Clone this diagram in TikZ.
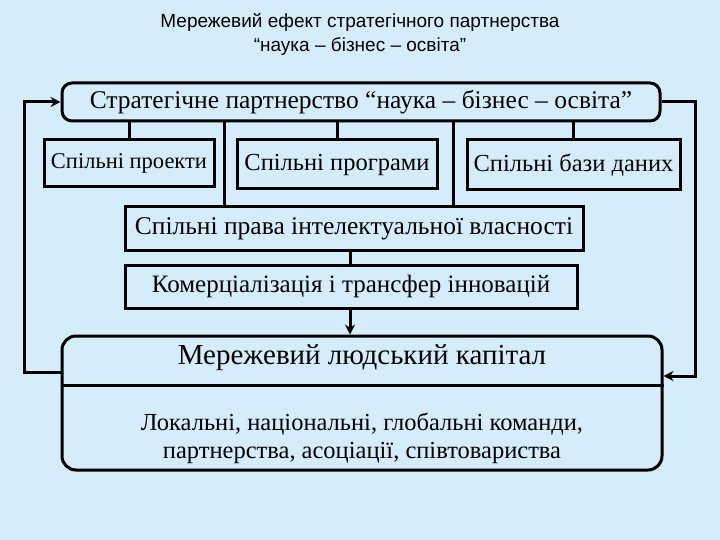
\documentclass[tikz,border=0pt]{standalone}
\usepackage{fontspec}
\usetikzlibrary{arrows.meta}
\setmainfont{Liberation Serif}
\newfontfamily\titlefont{Liberation Sans}
\definecolor{bg}{HTML}{D5ECFA}
\begin{document}
\begin{tikzpicture}[x=1pt,y=-1pt,
  bx/.style={draw,line width=3pt,fill=bg,inner sep=0pt},
  ln/.style={line width=3pt},
  ar/.style={line width=3pt,-{Stealth[length=10pt,width=10pt]}}]
\fill[bg] (0,0) rectangle (720,540);
\useasboundingbox (0,0) rectangle (720,540);
\node[font=\titlefont\fontsize{19}{24}\selectfont,align=center] (title) at (360,34) {Мережевий ефект стратегічного партнерства\\“наука – бізнес – освіта”};
\node[bx,rounded corners=10pt,minimum width=598pt,minimum height=38pt,font=\fontsize{25.5}{28}\selectfont] (top) at (361,102) {Стратегічне партнерство “наука – бізнес – освіта”};
\node[bx,minimum width=170pt,minimum height=47pt,font=\fontsize{22.5}{26}\selectfont] (b1) at (129,163.5) {Спільні проекти};
\node[bx,minimum width=200pt,minimum height=49pt,font=\fontsize{24.5}{28}\selectfont] (b2) at (337,164.5) {Спільні програми};
\node[bx,minimum width=213pt,minimum height=50pt,font=\fontsize{24.5}{28}\selectfont] (b3) at (573.5,165) {Спільні бази даних};
\node[bx,minimum width=458pt,minimum height=43pt,font=\fontsize{25.5}{28}\selectfont] (b4) at (354,228.5) {Спільні права інтелектуальної власності};
\node[bx,minimum width=452pt,minimum height=43pt,font=\fontsize{25}{28}\selectfont] (b5) at (351,286.5) {Комерціалізація і трансфер інновацій};
\node[bx,rounded corners=14pt,minimum width=600pt,minimum height=134pt] (net) at (362,403) {};
\draw[ln] (net.west |- 0,385) -- (net.east |- 0,385);
\node[font=\fontsize{29}{32}\selectfont] (nt) at (362,358) {Мережевий людський капітал};
\node[font=\fontsize{24.5}{28}\selectfont,align=center] (nd) at (362,438) {Локальні, національні, глобальні команди,\\партнерства, асоціації, співтовариства};
\draw[ln] (top.south -| b1) -- (b1.north);
\draw[ln] (top.south -| b2) -- (b2.north);
\draw[ln] (top.south -| b3) -- (b3.north);
\draw[ln] (top.south -| 224,0) -- (b4.north -| 224,0);
\draw[ln] (top.south -| 453,0) -- (b4.north -| 453,0);
\draw[ln] (b4.south -| 350,0) -- (b5.north -| 350,0);
\draw[ar] (b5.south -| 350,0) -- (net.north -| 350,0);
\coordinate (l1) at (24,372);
\coordinate (l2) at (24,102);
\coordinate (r1) at (695,102);
\coordinate (r2) at (695,376);
\draw[ar] (net.west |- l1) -- (l1) -- (l2) -- (top.west);
\draw[ar] (top.east) -- (r1) -- (r2) -- (net.east |- r2);
\end{tikzpicture}
\end{document}
